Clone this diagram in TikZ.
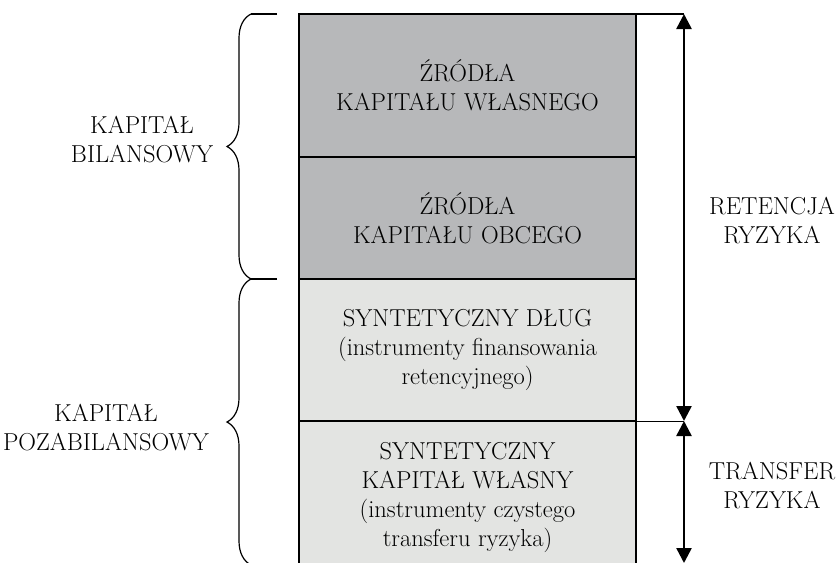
\documentclass[tikz,border=0pt]{standalone}
\usepackage{tikz}
\usetikzlibrary{arrows.meta, decorations.pathreplacing, positioning}
\definecolor{ciemny}{RGB}{183,184,186}
\definecolor{jasny}{RGB}{227,228,226}

\begin{document}
\begin{tikzpicture}[x=1pt,y=-1pt,
  txt/.style={font=\fontsize{24.5}{29}\selectfont,align=center},
  blok/.style={txt,draw,line width=1.5pt,outer sep=0pt,inner sep=0pt,minimum width=337pt},
  strz/.style={line width=2.5pt,{Triangle[length=15pt,width=15pt]}-{Triangle[length=15pt,width=15pt]}},
  klamra/.style={line width=1.2pt,decorate,decoration={brace,amplitude=24pt}}]
\path[use as bounding box,clip] (0,0) rectangle (837,562);
\node[blok,fill=ciemny,minimum height=143pt,anchor=north west] (zrodlaWl) at (299,14) {ŹRÓDŁA\\KAPITAŁU WŁASNEGO};
\node[blok,fill=ciemny,minimum height=122pt,below=0pt of zrodlaWl] (zrodlaOb) {ŹRÓDŁA\\KAPITAŁU OBCEGO};
\node[blok,fill=jasny,minimum height=142pt,below=0pt of zrodlaOb] (dlugSynt) {SYNTETYCZNY DŁUG\\(instrumenty finansowania\\retencyjnego)};
\node[blok,fill=jasny,minimum height=152pt,below=0pt of dlugSynt] (kapSynt) {SYNTETYCZNY\\KAPITAŁ WŁASNY\\(instrumenty czystego\\transferu ryzyka)};
% strzalki po prawej
\coordinate (retTop) at (684,14);
\coordinate (retBot) at (684,421);
\coordinate (trBot) at (684,563);
\draw[line width=1.5pt] (zrodlaWl.north east) -- (retTop);
\draw[line width=0.8pt] (kapSynt.north east) -- (retBot);
\draw[strz] (retTop) -- (retBot);
\draw[strz] (retBot) -- (trBot);
\node[txt] (labRet) at (772,221) {RETENCJA\\RYZYKA};
\node[txt] (labTr) at (772,486) {TRANSFER\\RYZYKA};
% klamry po lewej
\coordinate (bilTop) at (277,14);
\coordinate (bilBot) at (277,279);
\coordinate (klTop) at (251,14);
\coordinate (klMid) at (251,279);
\coordinate (klBot) at (251,565);
\draw[line width=1.2pt] (bilTop) -- (klTop);
\draw[line width=1.2pt] (bilBot) -- (klMid);
\draw[klamra] (klMid) -- (klTop);
\draw[klamra] (klBot) -- (klMid);
\node[txt] (labBil) at (142,140) {KAPITAŁ\\BILANSOWY};
\node[txt] (labPoza) at (106,428) {KAPITAŁ\\POZABILANSOWY};
\end{tikzpicture}
\end{document}
